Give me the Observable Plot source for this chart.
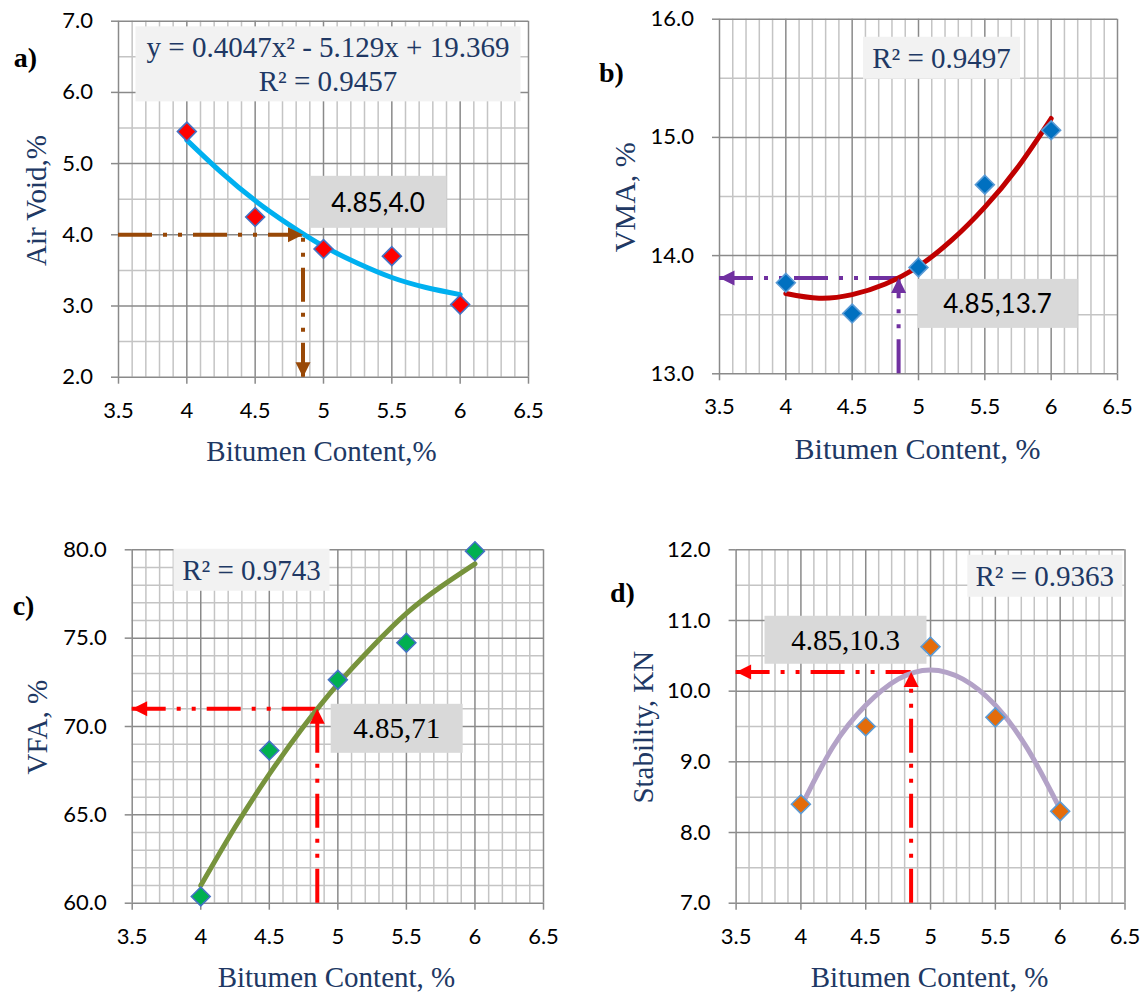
<!DOCTYPE html>
<html><head><meta charset="utf-8">
<script src="https://cdn.jsdelivr.net/npm/d3@7"></script>
<script src="https://cdn.jsdelivr.net/npm/@observablehq/plot@0.6"></script>
<style>
body{margin:0;background:#fff}
#wrap{position:relative;width:1143px;height:994px;overflow:hidden}
.panel{position:absolute}
</style></head><body><div id="wrap"></div>
<script>
// ---------- data ----------
const bitumen = [4, 4.5, 5, 5.5, 6];
const airVoid = [5.45, 4.25, 3.80, 3.70, 3.02];
const vma = [13.77, 13.51, 13.90, 14.60, 15.06];
const vfa = [60.38, 68.64, 72.64, 74.74, 79.92];
const stability = [8.40, 9.50, 10.63, 9.63, 8.30];

const fitX = [4, 4.25, 4.5, 4.75, 5, 5.25, 5.5, 5.75, 6];
const fitAirVoid = [5.33, 4.88, 4.48, 4.14, 3.84, 3.60, 3.40, 3.26, 3.16];
const fitVma = [13.68, 13.64, 13.67, 13.76, 13.91, 14.13, 14.41, 14.75, 15.16];
const fitVfa = [61.0, 64.3, 67.3, 70.0, 72.4, 74.5, 76.4, 77.9, 79.2];
const fitStability = [8.36, 9.22, 9.80, 10.17, 10.30, 10.17, 9.80, 9.18, 8.33];

const optimumBitumen = 4.85;
const optimumValues = [4.0, 13.81, 71.0, 10.27];
const optimumLabels = ["4.85,4.0", "4.85,13.7", "4.85,71", "4.85,10.3"];
const fitLabels = ["y = 0.4047x² - 5.129x + 19.369\nR² = 0.9457", "R² = 0.9497", "R² = 0.9743", "R² = 0.9363"];
const panelLetters = ["a)", "b)", "c)", "d)"];
const yTitles = ["Air Void,%", "VMA, %", "VFA, %", "Stability, KN"];
const xTitles = ["Bitumen Content,%", "Bitumen Content, %", "Bitumen Content, %", "Bitumen Content, %"];
const xTicks = [3.5, 4, 4.5, 5, 5.5, 6, 6.5];
const yTicksAir = [2, 3, 4, 5, 6, 7];
const yTicksVma = [13, 14, 15, 16];
const yTicksVfa = [60, 65, 70, 75, 80];
const yTicksStab = [7, 8, 9, 10, 11, 12];

// ---------- layout / style ----------
const SERIF = "Liberation Serif, Times New Roman, serif";
const SANS = "Lato, Open Sans, sans-serif";
const NAVY = "#203864";

const panels = [
  {values: airVoid, fit: fitAirVoid, yTicks: yTicksAir, minorY: 0.5,
   left: 0, top: 0, w: 571, h: 500, fx0: 118, fx1: 528, fy0: 20.7, fy1: 376.7,
   curve: "#00b0f0", pFill: "#ff0000", pStroke: "#4472c4", arrow: "#984807",
   hHead: "right", vHead: "down",
   labFont: SANS, labSize: 26, labDx: 75, labDy: -31.3, labBox: [137, 52],
   fitSize: 29, fitDx: 209.5, fitDy: 41.8, fitBox: [385, 75], fitLH: 1.17,
   titleSize: 29, yT: [-81.4, 1.3], xT: [-2, 75], let: [-93, 36.8]},
  {values: vma, fit: fitVma, yTicks: yTicksVma, minorY: 0.5,
   left: 571, top: 0, w: 572, h: 500, fx0: 719, fx1: 1117, fy0: 18.7, fy1: 373.3,
   curve: "#c00000", pFill: "#0070c0", pStroke: "#5b9bd5", arrow: "#7030a0",
   hHead: "left", vHead: "up",
   labFont: SANS, labSize: 26, labDx: 99, labDy: 27, labBox: [160, 49],
   fitSize: 29, fitDx: 222, fitDy: 39.3, fitBox: [157, 42], fitLH: 1,
   titleSize: 30, yT: [-94, 0.7], xT: [-1, 75.5], let: [-108, 53.8]},
  {values: vfa, fit: fitVfa, yTicks: yTicksVfa, minorY: 1,
   left: 0, top: 500, w: 571, h: 494, fx0: 131.7, fx1: 543, fy0: 549.3, fy1: 902.7,
   curve: "#77933c", pFill: "#00b050", pStroke: "#4472c4", arrow: "#ff0000",
   hHead: "left", vHead: "up",
   labFont: SERIF, labSize: 29, labDx: 79.4, labDy: 20.2, labBox: [132, 49],
   fitSize: 29, fitDx: 119.3, fitDy: 20.7, fitBox: [156, 42], fitLH: 1,
   titleSize: 29, yT: [-94.2, 0.7], xT: [-1.4, 74.8], let: [-108.7, 56.7]},
  {values: stability, fit: fitStability, yTicks: yTicksStab, minorY: 0.5,
   left: 571, top: 500, w: 572, h: 494, fx0: 735.6, fx1: 1124.5, fy0: 549.3, fy1: 902.7,
   curve: "#b3a2c7", pFill: "#e46c0a", pStroke: "#5b9bd5", arrow: "#ff0000",
   hHead: "left", vHead: "up",
   labFont: SERIF, labSize: 29, labDx: -65.6, labDy: -31.6, labBox: [162, 48],
   fitSize: 29, fitDx: 308.7, fitDy: 26.7, fitBox: [155, 42], fitLH: 1,
   titleSize: 29, yT: [-92.6, 0.7], xT: [-1, 74.8], let: [-113.6, 43.7]}
];

// arrowhead symbols (tip at origin)
const L = 15, W = 7.5;
const heads = {
  left: {draw(c){c.moveTo(0,0);c.lineTo(L,-W);c.lineTo(L,W);c.closePath();}},
  right:{draw(c){c.moveTo(0,0);c.lineTo(-L,-W);c.lineTo(-L,W);c.closePath();}},
  up:   {draw(c){c.moveTo(0,0);c.lineTo(-W,L);c.lineTo(W,L);c.closePath();}},
  down: {draw(c){c.moveTo(0,0);c.lineTo(-W,-L);c.lineTo(W,-L);c.closePath();}}
};
const DASH = "34,11,4,11,4,11";

const wrap = document.getElementById("wrap");

panels.forEach((p, k) => {
  const yMin = p.yTicks[0], yMax = p.yTicks[p.yTicks.length - 1];
  const majorStep = p.yTicks[1] - p.yTicks[0];
  const minorYs = d3.range(yMin, yMax + 1e-9, p.minorY).filter(v => Math.abs(v / majorStep - Math.round(v / majorStep)) > 1e-6);
  const minorXs = d3.range(35, 66).map(v => v / 10).filter(v => Math.abs(v * 2 - Math.round(v * 2)) > 1e-6);
  const pts = bitumen.map((x, i) => ({x, y: p.values[i]}));
  const fit = fitX.map((x, i) => ({x, y: p.fit[i]}));
  const v = optimumValues[k];
  const hTip = p.hHead === "right" ? {x: optimumBitumen, y: v} : {x: 3.5, y: v};
  const vTip = p.vHead === "down" ? {x: optimumBitumen, y: yMin} : {x: optimumBitumen, y: v};
  const boxSpecs = new Map([
    [optimumLabels[k], {size: p.labBox, fill: "#d9d9d9"}],
    [fitLabels[k].replace("\n", ""), {size: p.fitBox, fill: "#f2f2f2"}]
  ]);

  const chart = Plot.plot({
    width: p.w, height: p.h,
    marginLeft: p.fx0 - p.left, marginRight: p.left + p.w - p.fx1,
    marginTop: p.fy0 - p.top, marginBottom: p.top + p.h - p.fy1,
    x: {domain: [3.5, 6.5]},
    y: {domain: [yMin, yMax]},
    style: {background: "transparent", overflow: "visible"},
    marks: [
      Plot.ruleX(minorXs, {stroke: "#c4c4c4", strokeWidth: 1.5}),
      Plot.ruleY(minorYs, {stroke: "#c4c4c4", strokeWidth: 1.5}),
      Plot.ruleX(xTicks, {stroke: "#8a8a8a", strokeWidth: 1.5}),
      Plot.ruleY(p.yTicks, {stroke: "#8a8a8a", strokeWidth: 1.5}),
      Plot.axisX(xTicks, {tickFormat: d => String(d), tickSize: 7, tickPadding: 18, fontSize: 22,
        fontFamily: SANS, stroke: "#8a8a8a", strokeWidth: 1.5, fill: "#000", label: null}),
      Plot.axisY(p.yTicks, {tickFormat: d3.format(".1f"), tickSize: 7, tickPadding: 18.5, fontSize: 22,
        fontFamily: SANS, stroke: "#8a8a8a", strokeWidth: 1.5, fill: "#000", label: null}),
      Plot.text([fitLabels[k]], {frameAnchor: "top-left", dx: p.fitDx, dy: p.fitDy, textAnchor: "middle",
        lineAnchor: "middle", fontFamily: SERIF, fontSize: p.fitSize, fill: NAVY, lineHeight: p.fitLH}),
      Plot.text([optimumLabels[k]], {x: () => optimumBitumen, y: () => v, dx: p.labDx, dy: p.labDy,
        textAnchor: "middle", lineAnchor: "middle", fontFamily: p.labFont, fontSize: p.labSize, fill: "#000"}),
      Plot.ruleY([v], {x1: 3.5, x2: optimumBitumen, stroke: p.arrow, strokeWidth: 4, strokeDasharray: DASH}),
      Plot.ruleX([optimumBitumen], {y1: yMin, y2: v, stroke: p.arrow, strokeWidth: 4, strokeDasharray: DASH}),
      Plot.line(fit, {x: "x", y: "y", curve: "natural", stroke: p.curve, strokeWidth: 5, strokeLinecap: "round"}),
      Plot.dot(pts, {x: "x", y: "y", symbol: "diamond2", r: 8.5, fill: p.pFill, stroke: p.pStroke, strokeWidth: 1.6}),
      Plot.dot([hTip], {x: "x", y: "y", symbol: heads[p.hHead], fill: p.arrow, stroke: "none"}),
      Plot.dot([vTip], {x: "x", y: "y", symbol: heads[p.vHead], fill: p.arrow, stroke: "none"}),
      Plot.text([yTitles[k]], {frameAnchor: "left", dx: p.yT[0], dy: p.yT[1], rotate: -90, textAnchor: "middle",
        lineAnchor: "middle", fontFamily: SERIF, fontSize: p.titleSize, fill: NAVY}),
      Plot.text([xTitles[k]], {frameAnchor: "bottom", dx: p.xT[0], dy: p.xT[1], textAnchor: "middle",
        lineAnchor: "middle", fontFamily: SERIF, fontSize: p.titleSize, fill: NAVY}),
      Plot.text([panelLetters[k]], {frameAnchor: "top-left", dx: p.let[0], dy: p.let[1], textAnchor: "middle",
        lineAnchor: "middle", fontFamily: SERIF, fontSize: 28, fontWeight: "bold", fill: "#000"})
    ]
  });
  chart.classList.add("panel");
  chart.style.left = p.left + "px";
  chart.style.top = p.top + "px";
  wrap.appendChild(chart);

  // background boxes behind the annotation texts
  chart.querySelectorAll("text").forEach(t => {
    const spec = boxSpecs.get(t.textContent.replace("\n", ""));
    if (!spec) return;
    const b = t.getBBox();
    const cx = b.x + b.width / 2, cy = b.y + b.height / 2;
    const r = document.createElementNS("http://www.w3.org/2000/svg", "rect");
    r.setAttribute("x", cx - spec.size[0] / 2);
    r.setAttribute("y", cy - spec.size[1] / 2);
    r.setAttribute("width", spec.size[0]);
    r.setAttribute("height", spec.size[1]);
    r.setAttribute("fill", spec.fill);
    const tr = t.getAttribute("transform");
    if (tr) r.setAttribute("transform", tr);
    t.parentNode.insertBefore(r, t);
  });
});
</script></body></html>
